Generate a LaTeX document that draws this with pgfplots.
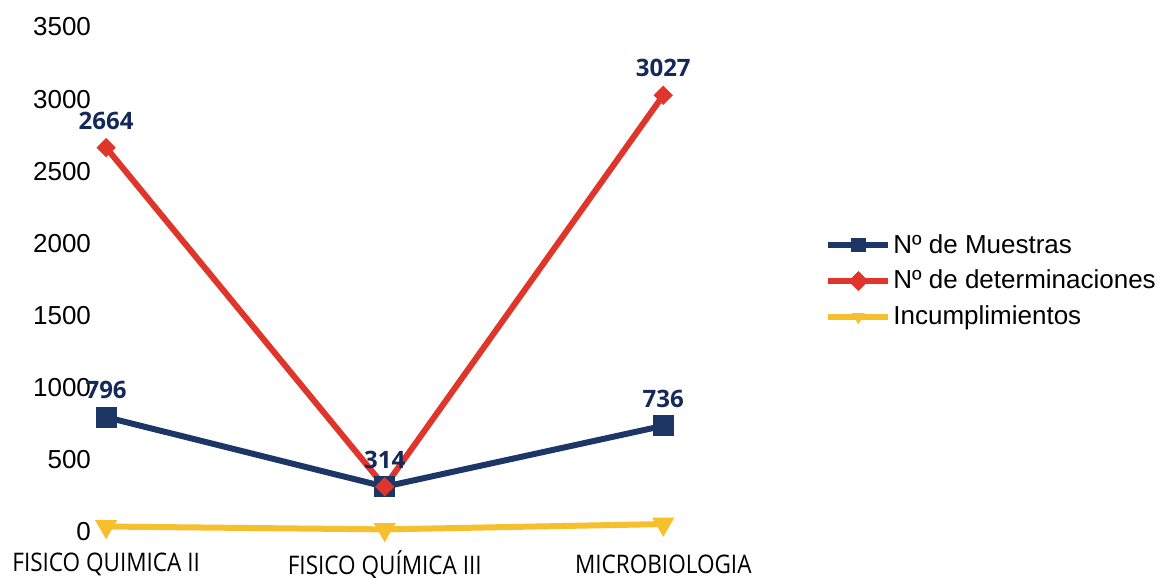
\documentclass[border=0pt]{standalone}
\usepackage{fontspec}
\setmainfont{Liberation Sans}
\newfontfamily\lblfont{Open Sans}
\newfontfamily\xfont{Open Sans}[FakeStretch=0.88]
\usepackage{pgfplots}
\pgfplotsset{compat=1.18}
\definecolor{navy}{HTML}{1C3766}
\definecolor{lblnavy}{HTML}{14285A}
\definecolor{redl}{HTML}{E0352B}
\definecolor{yell}{HTML}{F6BF2C}
\begin{document}
\begin{tikzpicture}
\useasboundingbox (-50pt,-23pt) rectangle (531.5pt,266pt);
\begin{axis}[
  scale only axis, width=290pt, height=252.5pt,
  xmin=-0.022, xmax=2.06, ymin=0, ymax=3500,
  clip=false,
  axis line style={draw=none},
  major tick length=0pt,
  ytick={0,500,...,3500},
  xtick={0,1,2},
  xticklabels={FISICO QUIMICA II, FISICO QUÍMICA III, MICROBIOLOGIA},
  xticklabel style={font=\xfont\fontsize{12.8}{14}\selectfont, anchor=center, yshift=-16.3pt},
  yticklabel style={font=\fontsize{13}{15}\selectfont, anchor=east, xshift=-1pt},
  /pgf/number format/assume math mode=true,
  scaled y ticks=false,
  yticklabel={\pgfmathprintnumber[fixed,precision=0,1000 sep={}]{\tick}},
  legend cell align=left,
  legend style={at={(1.25,0.497)}, anchor=west, draw=none, fill=none,
    inner sep=0pt, row sep=5pt, font=\fontsize{13}{15}\selectfont,
    nodes={inner sep=1pt}},
  legend image code/.code={\draw[mark repeat=2,mark phase=2,#1,mark size=3.3pt] plot coordinates {(0pt,0pt) (15pt,0pt) (30pt,0pt)};},
  every node near coord/.append style={font=\lblfont\bfseries\fontsize{12}{14}\selectfont, text=lblnavy, anchor=center, yshift=13.5pt},
]
\addplot[navy, line width=3pt, mark=square*, mark size=5pt, mark options={solid,line width=0.4pt},
  point meta=explicit symbolic, nodes near coords] coordinates {(0,796) [796] (1,314) [314] (2,736) [736]};
\addlegendentry{Nº de Muestras}
\addplot[redl, line width=3pt, mark=square*, mark size=3.2pt, mark options={solid,rotate=45,line width=0.4pt},
  point meta=explicit symbolic, nodes near coords] coordinates {(0,2664) [2664] (1,314) [] (2,3027) [3027]};
\addlegendentry{Nº de determinaciones}
\addplot[yell, line width=3pt, mark=triangle*, mark size=6pt, mark options={rotate=180,line width=0.4pt}] coordinates {(0,38) (1,18) (2,55)};
\addlegendentry{Incumplimientos}
\end{axis}
\end{tikzpicture}
\end{document}
